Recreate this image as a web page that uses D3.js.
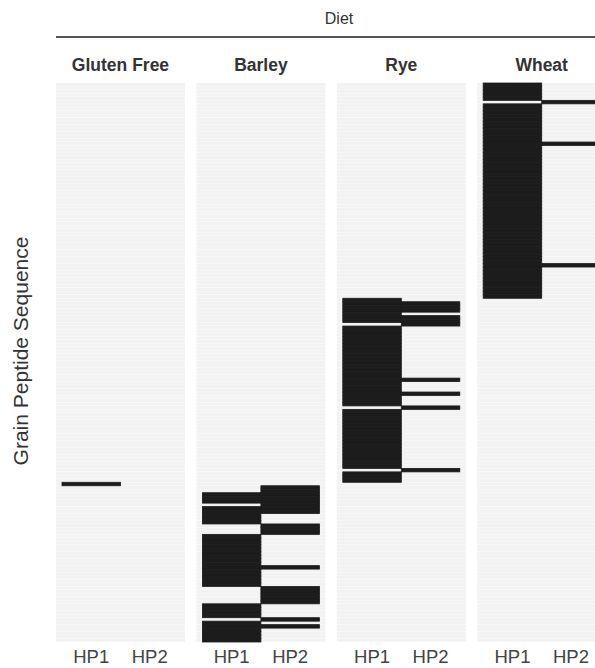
<!DOCTYPE html>
<html><head><meta charset="utf-8">
<script src="https://cdn.jsdelivr.net/npm/d3@7"></script>
<style>body{margin:0;background:#fff} svg{display:block}</style>
</head><body>
<svg id="chart" width="595" height="668"></svg>
<script>
// Diet facets and the patients shown inside each facet
const diets = ["Gluten Free", "Barley", "Rye", "Wheat"];
const patients = ["HP1", "HP2"];
// Peptide sequences (rows), grouped by source grain, top to bottom
const rowCount = 161;
// Rows where a peptide was detected, as inclusive [first, last] row ranges
const glutenFreeHP1 = [[115, 115]];
const glutenFreeHP2 = [];
const barleyHP1 = [[118, 120], [122, 126], [130, 144], [150, 153], [155, 160]];
const barleyHP2 = [[116, 123], [127, 129], [139, 139], [145, 149], [154, 154], [156, 156]];
const ryeHP1 = [[62, 68], [70, 92], [94, 110], [112, 114]];
const ryeHP2 = [[63, 65], [67, 69], [85, 85], [89, 89], [93, 93], [111, 111]];
const wheatHP1 = [[0, 4], [6, 61]];
const wheatHP2 = [[5, 5], [17, 17], [52, 52]];

const detected = {
  "Gluten Free": { HP1: glutenFreeHP1, HP2: glutenFreeHP2 },
  "Barley": { HP1: barleyHP1, HP2: barleyHP2 },
  "Rye": { HP1: ryeHP1, HP2: ryeHP2 },
  "Wheat": { HP1: wheatHP1, HP2: wheatHP2 }
};

// one record per detected cell
const cells = [];
diets.forEach(d => patients.forEach(p => {
  detected[d][p].forEach(([a, b]) => {
    for (let r = a; r <= b; r++) cells.push({ diet: d, patient: p, row: r });
  });
}));

const svg = d3.select("#chart");
const font = "'Liberation Sans', Arial, sans-serif";

const fx = d3.scaleBand().domain(diets).range([56, 606.2]).paddingInner(0.0812);
const x = d3.scaleBand().domain(patients).range([6, fx.bandwidth() - 6]);
const y = d3.scaleBand().domain(d3.range(rowCount)).range([83, 642]);

// column header
svg.append("text").attr("x", 339).attr("y", 24)
  .attr("text-anchor", "middle").attr("font-family", font)
  .attr("font-size", 16).attr("fill", "#333").text("Diet");
svg.append("line").attr("x1", 56).attr("x2", 595).attr("y1", 37).attr("y2", 37)
  .attr("stroke", "#555").attr("stroke-width", 2);

// y axis title
svg.append("text")
  .attr("transform", "translate(28,351) rotate(-90)")
  .attr("text-anchor", "middle").attr("font-family", font)
  .attr("font-size", 21).attr("fill", "#333").text("Grain Peptide Sequence");

const panels = svg.selectAll("g.panel").data(diets).join("g")
  .attr("class", "panel")
  .attr("transform", d => `translate(${fx(d)},0)`);

panels.append("text")
  .attr("x", fx.bandwidth() / 2).attr("y", 71)
  .attr("text-anchor", "middle").attr("font-family", font)
  .attr("font-size", 17.5).attr("font-weight", "bold").attr("fill", "#333")
  .text(d => d);

// striped row background
panels.selectAll("rect.bg").data(d3.range(rowCount)).join("rect")
  .attr("class", "bg")
  .attr("x", 0).attr("width", fx.bandwidth())
  .attr("y", r => y(r)).attr("height", y.bandwidth() - 0.3)
  .attr("fill", "#f2f2f2");

// detected cells
panels.selectAll("rect.cell").data(d => cells.filter(c => c.diet === d)).join("rect")
  .attr("class", "cell")
  .attr("x", c => x(c.patient)).attr("width", x.bandwidth())
  .attr("y", c => y(c.row)).attr("height", y.bandwidth())
  .attr("fill", "#1c1c1c").attr("stroke", "#1c1c1c").attr("stroke-width", 0.8);

// patient labels
const xAxis = d3.axisBottom(x).tickSize(0).tickPadding(0);
panels.append("g").attr("transform", "translate(0,650)").call(xAxis)
  .call(g => g.select(".domain").remove())
  .call(g => g.selectAll("text").attr("font-family", font).attr("font-size", 18.5)
    .attr("fill", "#444").attr("dy", "0.71em"));
</script>
</body></html>
